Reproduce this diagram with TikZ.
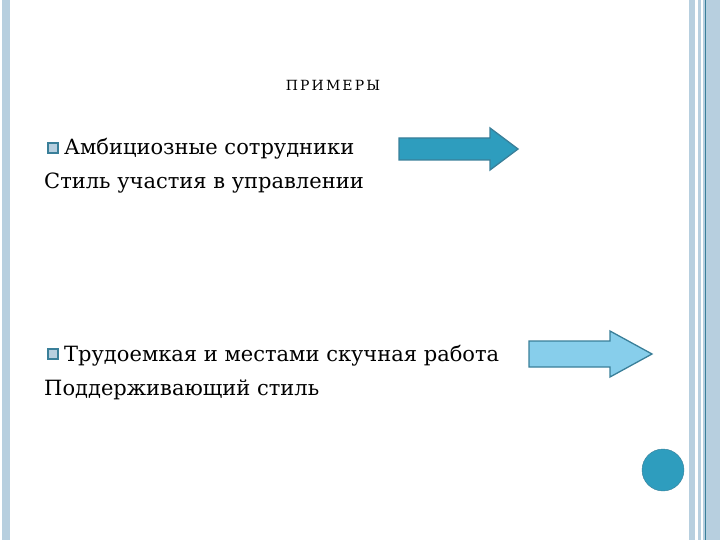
\documentclass[tikz,border=0pt]{standalone}
\usepackage{fontspec}
\setmainfont{DejaVu Serif}
\definecolor{bar}{HTML}{B7CFDF}
\definecolor{teal}{HTML}{2E9DBE}
\definecolor{lblue}{HTML}{87CEEB}
\definecolor{edge}{HTML}{3A7F99}
\tikzset{
  txt/.style={anchor=base west,inner sep=0pt,font=\fontsize{21}{24}\selectfont},
  bul/.style={draw=edge,fill=bar,minimum size=10pt,inner sep=0pt,line width=1.2pt},
  arrline/.style={draw=edge,line width=1.3pt,line join=miter}
}
\begin{document}
\begin{tikzpicture}[x=1pt,y=-1pt]
\useasboundingbox (0,0) rectangle (720,540);
\fill[bar] (2,0) rectangle (10,540);
\fill[bar] (689,0) rectangle (720,540);
\fill[white] (695,0) rectangle (698,540);
\fill[white] (701,0) rectangle (703,540);
\draw[edge,line width=0.6pt] (705,0) -- (705,540);
\node[font=\fontsize{14}{16}\selectfont\addfontfeature{LetterSpace=15}] (title) at (333,85) {ПРИМЕРЫ};
\node[bul] (b1) at (53,148) {};
\node[txt] (t1) at (64,155) {Амбициозные сотрудники};
\node[txt] (t2) at (44,189) {Стиль участия в управлении};
\node[bul] (b2) at (53,354) {};
\node[txt] (t3) at (64,361) {Трудоемкая и местами скучная работа};
\node[txt] (t4) at (44,395) {Поддерживающий стиль};
\draw[arrline,fill=teal] (399,138) -- (490,138) -- (490,128) -- (518,149) -- (490,170) -- (490,160) -- (399,160) -- cycle;
\draw[arrline,fill=lblue] (529,341) -- (610,341) -- (610,331) -- (652,354) -- (610,377) -- (610,367) -- (529,367) -- cycle;
\node[circle,fill=teal,draw=edge,minimum size=42pt,inner sep=0pt] (c) at (663,470) {};
\end{tikzpicture}
\end{document}
